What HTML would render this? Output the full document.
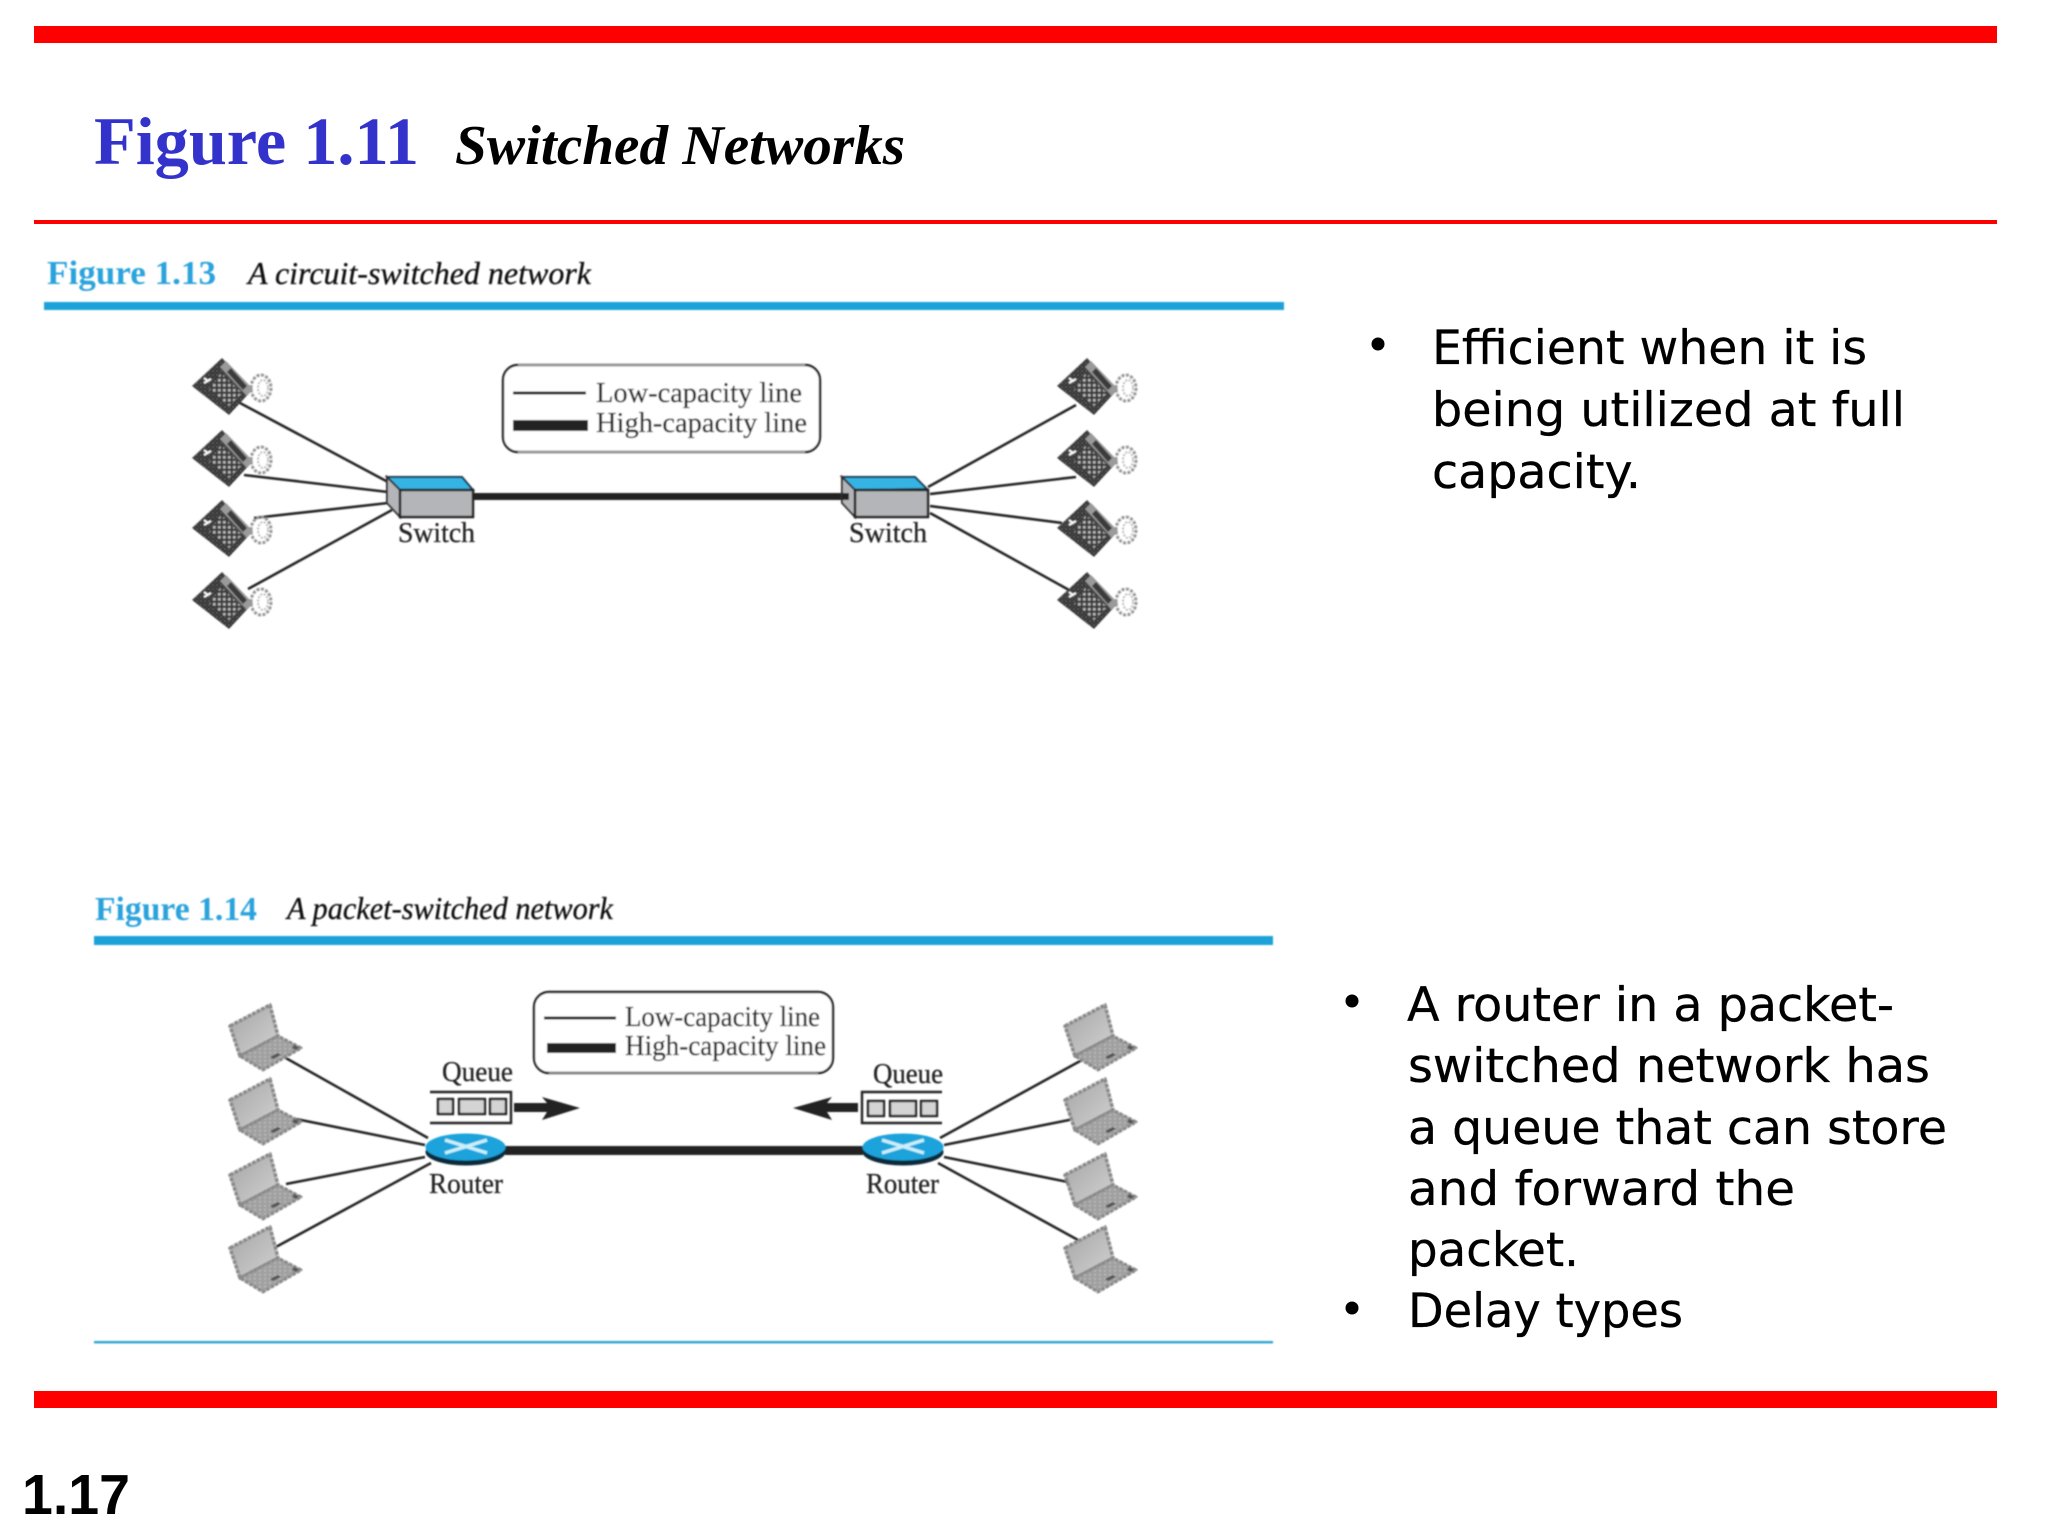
<!DOCTYPE html>
<html lang="en">
<head>
<meta charset="utf-8">
<title>Figure 1.11 Switched Networks</title>
<style>
html,body{margin:0;padding:0;background:#fff;width:2048px;height:1536px;overflow:hidden}
svg{display:block}
.serif{font-family:"Liberation Serif",serif}
.sans{font-family:"DejaVu Sans",sans-serif;font-size:47px;fill:#000;stroke:#000;stroke-width:.3px}
.lab{font-family:"Liberation Serif",serif;font-size:28px;fill:#222;stroke:#222;stroke-width:.3px}
</style>
</head>
<body>
<svg xmlns="http://www.w3.org/2000/svg" width="2048" height="1536" viewBox="0 0 2048 1536">
<defs>
<filter id="soft" x="-2%" y="-2%" width="104%" height="104%"><feGaussianBlur stdDeviation="0.7"/></filter>
<pattern id="tex" width="4" height="4" patternUnits="userSpaceOnUse">
<rect width="4" height="4" fill="#2b2b2b"/><rect width="2" height="2" fill="#5a5a5a"/><rect x="2" y="2" width="2" height="2" fill="#484848"/>
</pattern>
<pattern id="keys" width="5" height="5" patternUnits="userSpaceOnUse">
<rect width="5" height="5" fill="#3a3a3a"/><rect x="1" y="1" width="2.6" height="2.6" fill="#d8d8d8"/>
</pattern>
<pattern id="lk" width="5" height="4" patternUnits="userSpaceOnUse">
<rect width="5" height="4" fill="#a0a0a0"/><rect x="1" y="1" width="2" height="1.5" fill="#bcbcbc"/>
</pattern>
<linearGradient id="scr" x1="0" y1="0" x2="1" y2="1"><stop offset="0" stop-color="#a5a5a5"/><stop offset="1" stop-color="#d2d2d2"/></linearGradient>
<g id="phone">
<ellipse cx="69" cy="30" rx="10" ry="13" fill="none" stroke="#999" stroke-width="3" stroke-dasharray="3 1.5"/>
<ellipse cx="71" cy="30" rx="5" ry="8" fill="none" stroke="#bbb" stroke-width="2" stroke-dasharray="2 1.5"/>
<polygon points="30,0 60,32 37,57 0,28" fill="url(#tex)"/>
<polygon points="34,3 61,31 55,38 28,9" fill="#9a9a9a"/>
<polygon points="39,10 55,28 51,32 35,14" fill="#3a3a3a"/>
<polygon points="29,15 50,35 37,48 17,31" fill="url(#keys)" opacity=".8"/>
<path d="M12 25l7-4M12 20l4 3" stroke="#fff" stroke-width="2" fill="none"/>
</g>
<g id="laptop">
<polygon points="2,23 42,2 50,33 12,53" fill="url(#scr)" stroke="#8a8a8a" stroke-width="3.5" stroke-dasharray="4 1" stroke-linejoin="round"/>
<polygon points="12,53 50,33 73,45 35,67" fill="url(#lk)" stroke="#8a8a8a" stroke-width="3" stroke-dasharray="4 1" stroke-linejoin="round"/>
<polygon points="42,54 50,50 53,52 45,56" fill="#555"/>
<polygon points="66,42 71,44 68,47 64,45" fill="#555"/>
</g>
</defs>

<!-- slide frame -->
<rect x="34" y="26" width="1963" height="17" fill="#ff0000"/>
<rect x="34" y="220" width="1963" height="4" fill="#ff0000"/>
<rect x="34" y="1391" width="1963" height="17" fill="#ff0000"/>

<text class="serif" x="94" y="164" font-size="68" font-weight="bold" fill="#3333cc" textLength="325" lengthAdjust="spacingAndGlyphs">Figure 1.11</text>
<text class="serif" x="455" y="164" font-size="56" font-weight="bold" font-style="italic" fill="#000" textLength="450" lengthAdjust="spacingAndGlyphs">Switched Networks</text>
<text x="22" y="1514" font-family="'Liberation Sans',sans-serif" font-size="57" font-weight="bold" fill="#000" textLength="108" lengthAdjust="spacingAndGlyphs">1.17</text>

<!-- right text -->
<circle cx="1378" cy="344" r="6.5" fill="#000"/>
<text class="sans" x="1432" y="364" textLength="435" lengthAdjust="spacingAndGlyphs">Efficient when it is</text>
<text class="sans" x="1432" y="426" textLength="473" lengthAdjust="spacingAndGlyphs">being utilized at full</text>
<text class="sans" x="1432" y="488" textLength="209" lengthAdjust="spacingAndGlyphs">capacity.</text>

<circle cx="1352" cy="1001" r="6.5" fill="#000"/>
<text class="sans" x="1407" y="1021" textLength="487" lengthAdjust="spacingAndGlyphs">A router in a packet-</text>
<text class="sans" x="1408" y="1082" textLength="522" lengthAdjust="spacingAndGlyphs">switched network has</text>
<text class="sans" x="1408" y="1144" textLength="539" lengthAdjust="spacingAndGlyphs">a queue that can store</text>
<text class="sans" x="1408" y="1205" textLength="387" lengthAdjust="spacingAndGlyphs">and forward the</text>
<text class="sans" x="1408" y="1266" textLength="171" lengthAdjust="spacingAndGlyphs">packet.</text>
<circle cx="1352" cy="1308" r="6.5" fill="#000"/>
<text class="sans" x="1408" y="1327" textLength="275" lengthAdjust="spacingAndGlyphs">Delay types</text>

<!-- figures -->
<g filter="url(#soft)">
<!-- Figure 1.13 -->
<text class="serif" x="47" y="284" font-size="34" font-weight="bold" fill="#2ba3dc" textLength="169" lengthAdjust="spacingAndGlyphs">Figure 1.13</text>
<text class="serif" x="248" y="284" font-size="32" font-style="italic" fill="#111" stroke="#111" stroke-width=".3" textLength="343" lengthAdjust="spacingAndGlyphs">A circuit-switched network</text>
<rect x="44" y="302" width="1240" height="8" fill="#1ba1d8"/>

<g stroke="#222" stroke-width="2.6" fill="none">
<line x1="240" y1="403" x2="388" y2="482"/>
<line x1="244" y1="475" x2="388" y2="492"/>
<line x1="254" y1="518" x2="388" y2="503"/>
<line x1="248" y1="589" x2="392" y2="510"/>
<line x1="928" y1="487" x2="1076" y2="405"/>
<line x1="930" y1="494" x2="1076" y2="477"/>
<line x1="930" y1="506" x2="1062" y2="523"/>
<line x1="930" y1="513" x2="1069" y2="590"/>
</g>
<use href="#phone" x="192" y="358"/><use href="#phone" x="192" y="430"/><use href="#phone" x="192" y="500"/><use href="#phone" x="192" y="572"/>
<use href="#phone" x="1057" y="358"/><use href="#phone" x="1057" y="430"/><use href="#phone" x="1057" y="500"/><use href="#phone" x="1057" y="572"/>

<rect x="473" y="493" width="374" height="7" fill="#222"/>
<!-- left switch -->
<polygon points="387,477 462,477 473,490 400,490" fill="#35b4e4" stroke="#1d3a48" stroke-width="2"/>
<polygon points="387,477 400,490 400,517 387,503" fill="#b3b5b8" stroke="#333" stroke-width="2"/>
<rect x="400" y="490" width="73" height="27" fill="#b3b5b8" stroke="#222" stroke-width="2.5"/>
<!-- right switch -->
<polygon points="842,477 915,477 927,489 855,490" fill="#35b4e4" stroke="#1d3a48" stroke-width="2"/>
<polygon points="842,477 855,490 855,517 842,503" fill="#b3b5b8" stroke="#333" stroke-width="2"/>
<rect x="842" y="493" width="7" height="7" fill="#222"/>
<rect x="855" y="490" width="73" height="27" fill="#b3b5b8" stroke="#222" stroke-width="2.5"/>
<text class="lab" x="398" y="542" textLength="77" lengthAdjust="spacingAndGlyphs">Switch</text>
<text class="lab" x="849" y="542" textLength="78" lengthAdjust="spacingAndGlyphs">Switch</text>

<!-- legend 1 -->
<rect x="503" y="365" width="317" height="87" rx="15" fill="#fff" stroke="#222" stroke-width="2.4"/>
<path d="M518 365H805M518 452H805" stroke="#999" stroke-width="2.5" fill="none"/>
<rect x="513" y="391.5" width="73" height="3" fill="#111"/>
<rect x="513" y="420" width="75" height="11" fill="#222"/>
<text class="lab" x="596" y="402" textLength="206" lengthAdjust="spacingAndGlyphs">Low-capacity line</text>
<text class="lab" x="596" y="432" textLength="211" lengthAdjust="spacingAndGlyphs">High-capacity line</text>

<!-- Figure 1.14 -->
<text class="serif" x="95" y="920" font-size="34" font-weight="bold" fill="#2ba3dc" textLength="162" lengthAdjust="spacingAndGlyphs">Figure 1.14</text>
<text class="serif" x="287" y="919" font-size="32" font-style="italic" fill="#111" stroke="#111" stroke-width=".3" textLength="326" lengthAdjust="spacingAndGlyphs">A packet-switched network</text>
<rect x="94" y="936" width="1179" height="9" fill="#1ba1d8"/>
<rect x="94" y="1341" width="1179" height="2.4" fill="#2ea3cf"/>

<g stroke="#222" stroke-width="2.6" fill="none">
<line x1="284" y1="1057" x2="428" y2="1138"/>
<line x1="296" y1="1119" x2="425" y2="1145"/>
<line x1="286" y1="1184" x2="425" y2="1157"/>
<line x1="274" y1="1248" x2="431" y2="1163"/>
<line x1="940" y1="1138" x2="1082" y2="1060"/>
<line x1="944" y1="1145" x2="1074" y2="1119"/>
<line x1="944" y1="1157" x2="1068" y2="1182"/>
<line x1="938" y1="1163" x2="1078" y2="1240"/>
</g>
<use href="#laptop" x="228" y="1003"/><use href="#laptop" x="228" y="1077"/><use href="#laptop" x="228" y="1152"/><use href="#laptop" x="228" y="1225"/>
<use href="#laptop" x="1063" y="1003"/><use href="#laptop" x="1063" y="1077"/><use href="#laptop" x="1063" y="1152"/><use href="#laptop" x="1063" y="1225"/>

<rect x="505" y="1146" width="358" height="9" fill="#222"/>
<!-- routers -->
<ellipse cx="465.5" cy="1152" rx="40" ry="13.5" fill="#10293a"/>
<ellipse cx="465.5" cy="1147" rx="40" ry="13.5" fill="#1ba3dc"/>
<path d="M445 1140L487 1153M445 1153L487 1140" stroke="#c9f0fb" stroke-width="3.5" fill="none"/>
<ellipse cx="903" cy="1152" rx="40.5" ry="13.5" fill="#10293a"/>
<ellipse cx="903" cy="1147" rx="40.5" ry="13.5" fill="#1ba3dc"/>
<path d="M882 1140L924 1153M882 1153L924 1140" stroke="#c9f0fb" stroke-width="3.5" fill="none"/>
<text class="lab" x="429" y="1193" textLength="74" lengthAdjust="spacingAndGlyphs">Router</text>
<text class="lab" x="866" y="1193" textLength="73" lengthAdjust="spacingAndGlyphs">Router</text>

<!-- left queue -->
<text class="lab" x="442" y="1081" textLength="71" lengthAdjust="spacingAndGlyphs">Queue</text>
<path d="M430 1092H511V1123H430" fill="none" stroke="#222" stroke-width="2.4"/>
<g fill="#d4d4d4" stroke="#222" stroke-width="2.4">
<rect x="438" y="1099" width="15" height="15"/><rect x="459" y="1099" width="26" height="15"/><rect x="490" y="1099" width="16" height="15"/>
</g>
<polygon points="514,1103 547,1103 542,1097 580,1108 542,1120 547,1112 514,1112" fill="#222"/>

<!-- right queue -->
<text class="lab" x="873" y="1083" textLength="70" lengthAdjust="spacingAndGlyphs">Queue</text>
<path d="M942 1092H862V1123H942" fill="none" stroke="#222" stroke-width="2.4"/>
<g fill="#d4d4d4" stroke="#222" stroke-width="2.4">
<rect x="868" y="1101" width="16" height="15"/><rect x="890" y="1101" width="26" height="15"/><rect x="921" y="1101" width="16" height="15"/>
</g>
<polygon points="858,1103 827,1103 832,1097 793,1108 832,1120 827,1112 858,1112" fill="#222"/>

<!-- legend 2 -->
<rect x="534" y="992" width="299" height="81" rx="15" fill="#fff" stroke="#222" stroke-width="2.4"/>
<path d="M549 1073H818" stroke="#888" stroke-width="2.5" fill="none"/>
<rect x="544" y="1016.5" width="72" height="3" fill="#111"/>
<rect x="547" y="1043" width="69" height="10" fill="#222"/>
<text class="lab" x="625" y="1026" textLength="195" lengthAdjust="spacingAndGlyphs">Low-capacity line</text>
<text class="lab" x="625" y="1055" textLength="201" lengthAdjust="spacingAndGlyphs">High-capacity line</text>
</g>
</svg>
</body>
</html>
